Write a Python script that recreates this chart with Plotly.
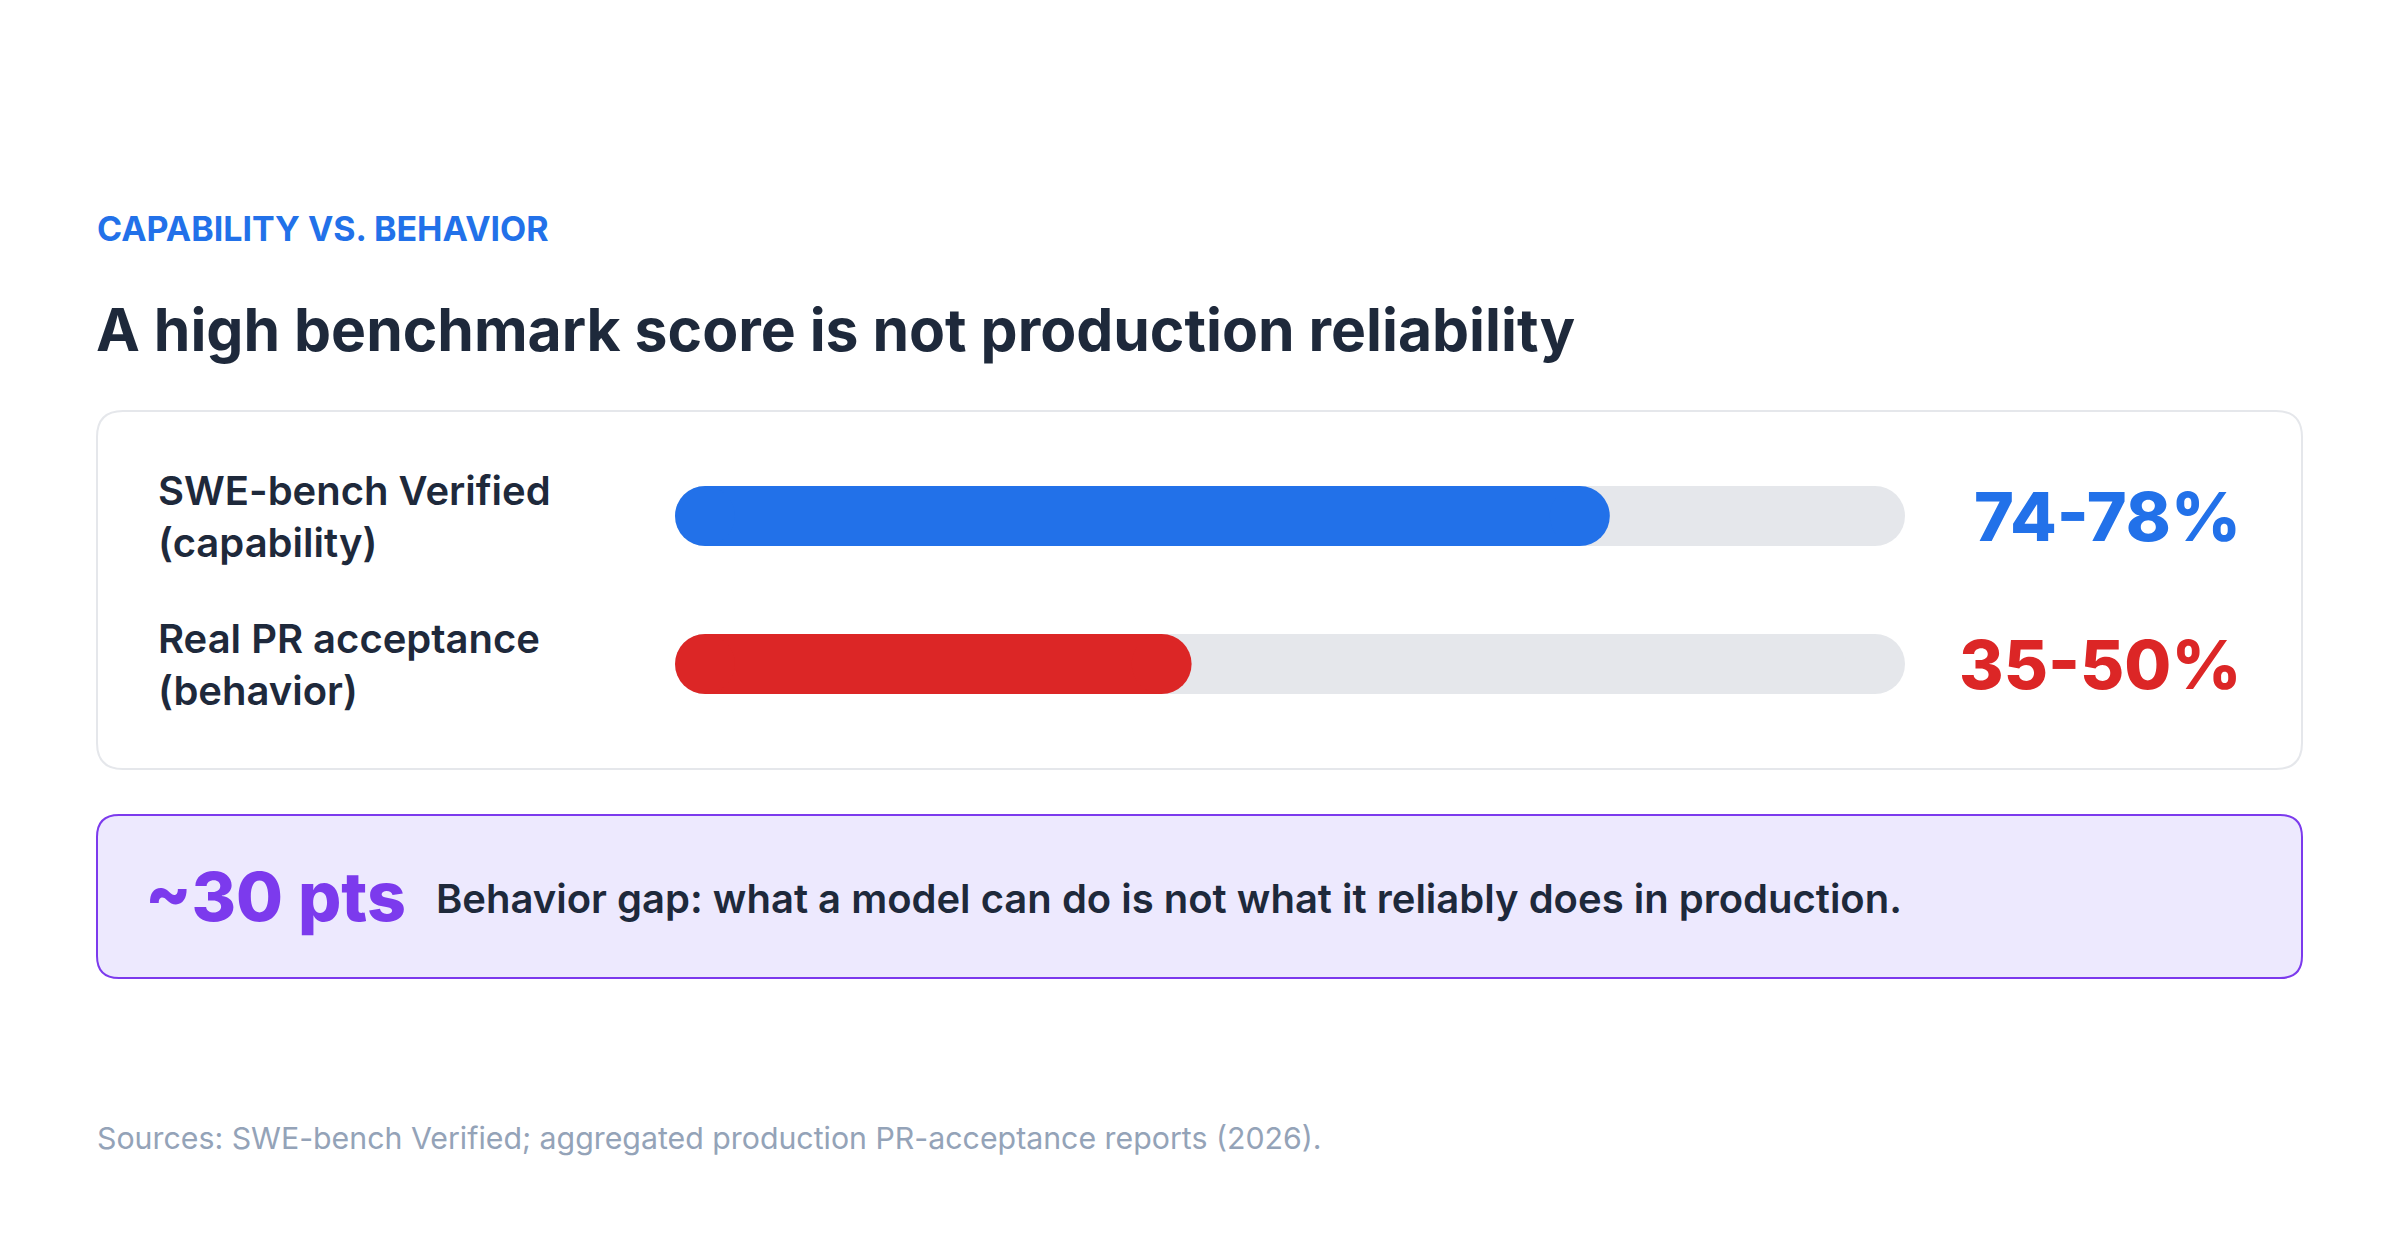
import plotly.graph_objects as go

# ---------------- data ----------------
categories = ["SWE-bench Verified<br>(capability)", "Real PR acceptance<br>(behavior)"]
values = [76, 42]                        # bar fill (%), inside reported ranges
range_labels = ["74-78%", "35-50%"]
track_max = 100
gap_label = "~30 pts"
gap_text = "Behavior gap: what a model can do is not what it reliably does in production."
eyebrow = "CAPABILITY VS. BEHAVIOR"
title = "A high benchmark score is not production reliability"
source = "Sources: SWE-bench Verified; aggregated production PR-acceptance reports (2026)."

# ---------------- layout helpers ----------------
W, H = 2400, 1254
FONT = "Inter"
DARK = "#1e293b"
BAR_COLORS = ["#2271e9", "#dc2626"]
TRACK = "#e5e7eb"
PURPLE = "#7c3aed"

def px(x):
    return x / W

def py(y):
    return 1 - y / H

TRACK_L, TRACK_R = 675, 1905
BAR_H = 60
cap_units = (BAR_H / 2) * track_max / (TRACK_R - TRACK_L)

fig = go.Figure()

for i, (cat, v) in enumerate(zip(categories, values)):
    fig.add_trace(go.Scatter(
        x=[cap_units, track_max - cap_units], y=[cat, cat],
        mode="lines+markers",
        line=dict(color=TRACK, width=BAR_H),
        marker=dict(size=BAR_H, color=TRACK, line=dict(width=0)),
        hoverinfo="skip", showlegend=False))
    fig.add_trace(go.Scatter(
        x=[cap_units, v - cap_units], y=[cat, cat],
        mode="lines+markers",
        line=dict(color=BAR_COLORS[i], width=BAR_H),
        marker=dict(size=BAR_H, color=BAR_COLORS[i], line=dict(width=0)),
        hovertemplate=f"{cat.replace('<br>', ' ')}: {range_labels[i]}<extra></extra>",
        showlegend=False))


def rounded_rect(x0, y0, x1, y1, r):
    rx, ry = r / W, r / H
    X0, X1 = px(x0), px(x1)
    Y0, Y1 = py(y0), py(y1)  # Y0 top, Y1 bottom
    return (f"M{X0+rx},{Y0} L{X1-rx},{Y0} Q{X1},{Y0} {X1},{Y0-ry} "
            f"L{X1},{Y1+ry} Q{X1},{Y1} {X1-rx},{Y1} "
            f"L{X0+rx},{Y1} Q{X0},{Y1} {X0},{Y1+ry} "
            f"L{X0},{Y0-ry} Q{X0},{Y0} {X0+rx},{Y0} Z")

shapes = [
    dict(type="path", xref="paper", yref="paper", layer="below",
         path=rounded_rect(97, 411, 2302, 769, 26),
         fillcolor="#ffffff", line=dict(color=TRACK, width=2)),
    dict(type="path", xref="paper", yref="paper", layer="below",
         path=rounded_rect(97, 815, 2302, 978, 22),
         fillcolor="#ede9fe", line=dict(color=PURPLE, width=2)),
]

annotations = [
    dict(text=f"<b>{eyebrow}</b>", x=px(95), y=py(229), xref="paper", yref="paper",
         xanchor="left", yanchor="middle", showarrow=False,
         font=dict(family=FONT, size=34, color="#2271e9")),
    dict(text=f"<b>{title}</b>", x=px(94), y=py(330), xref="paper", yref="paper",
         xanchor="left", yanchor="middle", showarrow=False,
         font=dict(family=FONT, size=58.8, color=DARK)),
    dict(text=gap_label, x=px(143), y=py(896), xref="paper", yref="paper",
         xanchor="left", yanchor="middle", showarrow=False,
         font=dict(family=FONT, size=68, color=PURPLE, weight=800)),
    dict(text=gap_text, x=px(434), y=py(898), xref="paper", yref="paper",
         xanchor="left", yanchor="middle", showarrow=False,
         font=dict(family=FONT, size=40, color=DARK, weight=600)),
    dict(text=source, x=px(95), y=py(1138), xref="paper", yref="paper",
         xanchor="left", yanchor="middle", showarrow=False,
         font=dict(family=FONT, size=30.3, color="#94a3b8")),
]

for i, cat in enumerate(categories):
    annotations.append(dict(
        text=cat, x=px(156), y=cat, xref="paper", yref="y",
        xanchor="left", yanchor="middle", align="left", showarrow=False,
        font=dict(family=FONT, size=40, color=DARK, weight=600)))
    annotations.append(dict(
        text=range_labels[i], x=px(2243), y=cat, xref="paper", yref="y",
        xanchor="right", yanchor="middle", align="right", showarrow=False,
        font=dict(family=FONT, size=68, color=BAR_COLORS[i], weight=800)))

fig.update_layout(
    width=W, height=H,
    margin=dict(l=0, r=0, t=0, b=0),
    paper_bgcolor="#ffffff", plot_bgcolor="rgba(0,0,0,0)",
    xaxis=dict(domain=[px(TRACK_L), px(TRACK_R)], range=[0, track_max],
               visible=False, fixedrange=True),
    yaxis=dict(domain=[py(738), py(442)], type="category",
               categoryorder="array", categoryarray=categories,
               range=[1.5, -0.5], visible=False, fixedrange=True),
    shapes=shapes, annotations=annotations,
    font=dict(family=FONT),
)

fig.write_html("out.html")
